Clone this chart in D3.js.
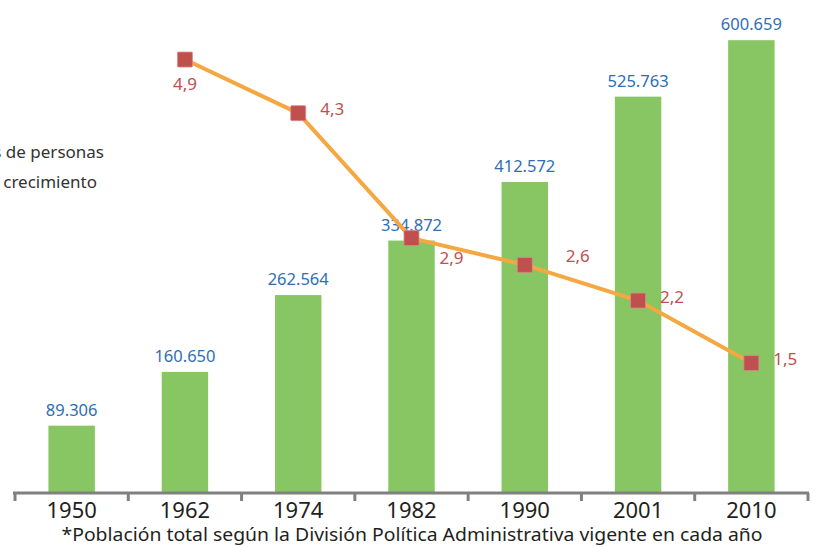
<!DOCTYPE html>
<html>
<head>
<meta charset="utf-8">
<script src="https://cdn.jsdelivr.net/npm/d3@7"></script>
<style>
  html, body { margin: 0; padding: 0; background: #fff; }
  svg { display: block; font-family: "Noto Sans", "Open Sans", sans-serif; }
</style>
</head>
<body>
<div id="chart"></div>
<script>
// --- data ---
const years = ["1950", "1962", "1974", "1982", "1990", "2001", "2010"];
const population = [89306, 160650, 262564, 334872, 412572, 525763, 600659];
const popLabels = ["89.306", "160.650", "262.564", "334.872", "412.572", "525.763", "600.659"];
const growthYears = ["1962", "1974", "1982", "1990", "2001", "2010"];
const growthRate = [4.9, 4.3, 2.9, 2.6, 2.2, 1.5];
const growthLabels = ["4,9", "4,3", "2,9", "2,6", "2,2", "1,5"];
const growthLabelPos = ["below", "right", "belowRight", "aboveRight", "right", "right"];
const legendLabels = ["Miles de personas", "Tasa de crecimiento"];
const footnote = "*Población total según la División Política Administrativa vigente en cada año";

const W = 819, H = 547;
const baseY = 493;

const svg = d3.select("#chart").append("svg")
  .attr("width", W)
  .attr("height", H);

const x = d3.scaleBand()
  .domain(years)
  .range([15, 808])
  .paddingInner(0.59)
  .paddingOuter(0.295);

const y = d3.scaleLinear()
  .domain([0, 650000])
  .range([baseY, 3]);

const y2 = d3.scaleLinear()
  .domain([0, 5.5])
  .range([497, 6]);

// bars
svg.append("g")
  .selectAll("rect")
  .data(years)
  .join("rect")
    .attr("x", d => x(d))
    .attr("y", (d, i) => y(population[i]))
    .attr("width", x.bandwidth())
    .attr("height", (d, i) => baseY - y(population[i]))
    .attr("fill", "#87c663");

// bar value labels
svg.append("g")
  .selectAll("text")
  .data(years)
  .join("text")
    .attr("x", d => x(d) + x.bandwidth() / 2)
    .attr("y", (d, i) => y(population[i]) - 10)
    .attr("text-anchor", "middle")
    .attr("font-size", 16.5)
    .attr("fill", "#2f6eb5")
    .text((d, i) => popLabels[i]);

// x axis
const step = x.step();
const axis = svg.append("g").attr("transform", `translate(0,${baseY})`);
axis.append("line")
  .attr("x1", 13).attr("x2", 809)
  .attr("stroke", "#808080").attr("stroke-width", 3);
const edges = years.map(d => x(d) - (step - x.bandwidth()) / 2).concat([x(years[years.length - 1]) + x.bandwidth() + (step - x.bandwidth()) / 2]);
axis.selectAll("line.tick")
  .data(edges)
  .join("line")
    .attr("class", "tick")
    .attr("x1", d => d).attr("x2", d => d)
    .attr("y1", 0).attr("y2", 8)
    .attr("stroke", "#808080").attr("stroke-width", 3);
axis.selectAll("text")
  .data(years)
  .join("text")
    .attr("x", d => x(d) + x.bandwidth() / 2)
    .attr("y", 25)
    .attr("text-anchor", "middle")
    .attr("font-size", 22)
    .attr("fill", "#231f20")
    .text(d => d);

// growth line
const line = d3.line()
  .x((d, i) => x(growthYears[i]) + x.bandwidth() / 2)
  .y(d => y2(d));

svg.append("path")
  .datum(growthRate)
  .attr("d", line)
  .attr("fill", "none")
  .attr("stroke", "#f5a841")
  .attr("stroke-width", 4);

svg.append("g")
  .selectAll("rect")
  .data(growthRate)
  .join("rect")
    .attr("x", (d, i) => x(growthYears[i]) + x.bandwidth() / 2 - 7.5)
    .attr("y", d => y2(d) - 7.5)
    .attr("width", 15)
    .attr("height", 15)
    .attr("rx", 1)
    .attr("fill", "#c0504d")
    .attr("stroke", "#d98c8a")
    .attr("stroke-width", 0.8);

const offsets = {
  below: [0, 24, "middle"],
  right: [22, -4, "start"],
  belowRight: [28, 20, "start"],
  aboveRight: [41, -9, "start"],
};
svg.append("g")
  .selectAll("text")
  .data(growthRate)
  .join("text")
    .attr("x", (d, i) => x(growthYears[i]) + x.bandwidth() / 2 + offsets[growthLabelPos[i]][0])
    .attr("y", (d, i) => y2(d) + offsets[growthLabelPos[i]][1])
    .attr("dy", "0.35em")
    .attr("text-anchor", (d, i) => offsets[growthLabelPos[i]][2])
    .attr("font-size", 17)
    .attr("fill", "#c0504d")
    .text((d, i) => growthLabels[i]);

// legend (cut off at the left edge, as in the source)
svg.append("text")
  .attr("x", 104).attr("y", 158)
  .attr("text-anchor", "end")
  .attr("font-size", 17)
  .attr("fill", "#333")
  .text(legendLabels[0]);
svg.append("text")
  .attr("x", 97).attr("y", 188)
  .attr("text-anchor", "end")
  .attr("font-size", 17)
  .attr("fill", "#333")
  .text(legendLabels[1]);

// footnote
svg.append("text")
  .attr("x", 412).attr("y", 541)
  .attr("text-anchor", "middle")
  .attr("font-size", 18)
  .attr("fill", "#231f20")
  .attr("textLength", 701)
  .attr("lengthAdjust", "spacingAndGlyphs")
  .text(footnote);
</script>
</body>
</html>
